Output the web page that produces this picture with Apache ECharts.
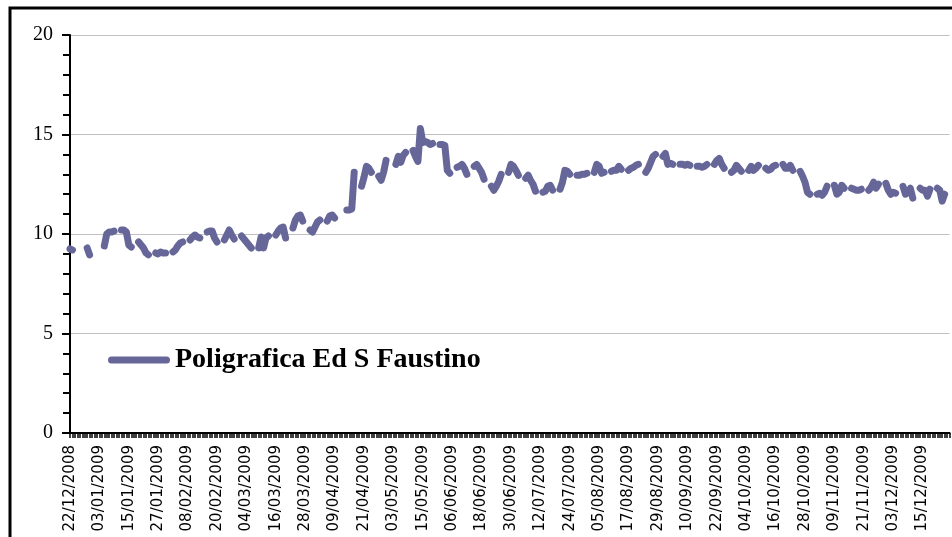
<!DOCTYPE html>
<html>
<head>
<meta charset="utf-8">
<script src="https://cdn.jsdelivr.net/npm/echarts@6/dist/echarts.min.js"></script>
<style>
  html, body { margin: 0; padding: 0; background: #fff; }
  #chart { width: 952px; height: 537px; }
</style>
</head>
<body>
<div id="chart"></div>
<script>
// categories: calendar days, 16/05-25/05/2009 are missing from the sheet
const startDate = new Date(2008, 11, 22);
const endDate = new Date(2009, 11, 26);
const skipFrom = new Date(2009, 4, 16);
const skipTo = new Date(2009, 4, 25);

const seriesName = 'Poligrafica Ed S Faustino';

// one line per week (Mon..Sun), null = no quote
const prices = [
  9.25, 9.2, null, null, null, null, null,        // 22/12/2008
  9.3, 8.95, null, null, null, null, null,        // 29/12
  9.4, 10.0, 10.1, 10.1, 10.15, null, null,       // 05/01/2009
  10.2, 10.2, 10.1, 9.45, 9.35, null, null,       // 12/01
  9.6, 9.45, 9.3, 9.05, 8.95, null, null,         // 19/01
  9.05, 9.0, 9.1, 9.05, 9.05, null, null,         // 26/01
  9.1, 9.2, 9.4, 9.55, 9.6, null, null,           // 02/02
  9.7, 9.85, 9.95, 9.85, 9.8, null, null,         // 09/02
  10.1, 10.15, 10.15, 9.8, 9.6, null, null,       // 16/02
  9.7, 9.95, 10.2, 9.95, 9.75, null, null,        // 23/02
  9.9, 9.75, 9.6, 9.45, 9.3, null, null,          // 02/03
  9.3, 9.85, 9.3, 9.8, 9.9, null, null,           // 09/03
  9.95, 10.15, 10.3, 10.35, 9.8, null, null,      // 16/03
  10.3, 10.7, 10.9, 10.95, 10.65, null, null,     // 23/03
  10.2, 10.1, 10.35, 10.6, 10.7, null, null,      // 30/03
  10.65, 10.9, 10.95, 10.8, null, null, null,     // 06/04
  null, 11.2, 11.2, 11.25, 13.1, null, null,      // 13/04
  12.4, 12.85, 13.4, 13.3, 13.1, null, null,      // 20/04
  12.9, 12.7, 13.1, 13.7, null, null, null,       // 27/04
  13.5, 13.9, 13.6, 13.95, 14.1, null, null,      // 04/05
  14.2, 13.9, 13.65, 15.3, 14.6,                  // 11/05 (to 15/05)
  14.65, 14.6, 14.5, 14.55, null, null,           // 26/05 (Tue)
  14.5, 14.5, 14.45, 13.2, 13.05, null, null,     // 01/06
  13.35, 13.4, 13.5, 13.3, 13.0, null, null,      // 08/06
  13.4, 13.5, 13.3, 13.1, 12.75, null, null,      // 15/06
  12.4, 12.2, 12.4, 12.65, 13.0, null, null,      // 22/06
  13.1, 13.5, 13.4, 13.2, 12.95, null, null,      // 29/06
  12.8, 12.95, 12.7, 12.5, 12.15, null, null,     // 06/07
  12.1, 12.15, 12.4, 12.45, 12.2, null, null,     // 13/07
  12.25, 12.6, 13.2, 13.15, 13.0, null, null,     // 20/07
  12.95, 12.95, 13.0, 13.0, 13.05, null, null,    // 27/07
  13.1, 13.5, 13.4, 13.05, 13.1, null, null,      // 03/08
  13.15, 13.2, 13.2, 13.4, 13.25, null, null,     // 10/08
  13.2, 13.3, 13.35, 13.45, 13.5, null, null,     // 17/08
  13.1, 13.3, 13.6, 13.9, 14.0, null, null,       // 24/08
  13.9, 14.05, 13.5, 13.55, 13.5, null, null,     // 31/08
  13.5, 13.5, 13.45, 13.5, 13.45, null, null,     // 07/09
  13.4, 13.4, 13.35, 13.4, 13.5, null, null,      // 14/09
  13.5, 13.7, 13.8, 13.5, 13.3, null, null,       // 21/09
  13.1, 13.2, 13.45, 13.3, 13.15, null, null,     // 28/09
  13.2, 13.4, 13.2, 13.3, 13.45, null, null,      // 05/10
  13.3, 13.2, 13.25, 13.4, 13.45, null, null,     // 12/10
  13.5, 13.3, 13.3, 13.45, 13.2, null, null,      // 19/10
  13.15, 12.9, 12.6, 12.1, 12.0, null, null,      // 26/10
  12.0, 12.05, 11.95, 12.1, 12.4, null, null,     // 02/11
  12.45, 12.0, 12.1, 12.45, 12.3, null, null,     // 09/11
  12.3, 12.25, 12.2, 12.2, 12.25, null, null,     // 16/11
  12.2, 12.35, 12.6, 12.3, 12.5, null, null,      // 23/11
  12.55, 12.2, 12.0, 12.1, 12.05, null, null,     // 30/11
  12.4, 12.0, 12.1, 12.3, 11.8, null, null,       // 07/12
  12.3, 12.2, 12.2, 11.9, 12.25, null, null,      // 14/12
  12.3, 12.2, 11.65, 12.0, null, null             // 21/12
];

function pad(n) { return n < 10 ? '0' + n : '' + n; }

const dates = [];
for (let d = new Date(startDate); d <= endDate; d.setDate(d.getDate() + 1)) {
  if (d >= skipFrom && d <= skipTo) continue;
  dates.push(pad(d.getDate()) + '/' + pad(d.getMonth() + 1) + '/' + d.getFullYear());
}

const lineColor = '#666699';
const step = 2.45;

const chart = echarts.init(document.getElementById('chart'));
chart.setOption({
  animation: false,
  backgroundColor: '#fff',
  grid: { left: 70, top: 35, width: step * (dates.length - 1), height: 398 },
  legend: {
    left: 103,
    top: 341,
    itemWidth: 62,
    itemHeight: 7,
    icon: 'path://M3.5,0H58.5A3.5,3.5,0,0,1,58.5,7H3.5A3.5,3.5,0,0,1,3.5,0Z',
    textStyle: { fontFamily: 'Liberation Serif', fontWeight: 'bold', fontSize: 28, color: '#000' },
    data: [seriesName]
  },
  xAxis: {
    type: 'category',
    data: dates,
    boundaryGap: false,
    axisLine: { lineStyle: { color: '#000', width: 2 } },
    axisTick: { interval: 0, length: 5, lineStyle: { color: '#000', width: 1.5 } },
    axisLabel: {
      interval: 11,
      rotate: 90,
      margin: 12,
      fontFamily: 'DejaVu Sans',
      fontSize: 15,
      color: '#000'
    },
    splitLine: { show: false }
  },
  yAxis: {
    type: 'value',
    min: 0,
    max: 20,
    interval: 5,
    axisLine: { show: true, lineStyle: { color: '#000', width: 2 } },
    axisTick: { show: true, length: 8, lineStyle: { color: '#000', width: 2 } },
    minorTick: { show: true, splitNumber: 5, length: 7, lineStyle: { color: '#000', width: 2 } },
    axisLabel: { fontFamily: 'Liberation Serif', fontSize: 20, color: '#000', margin: 17 },
    splitLine: { lineStyle: { color: '#c0c0c0', width: 1 } }
  },
  series: [{
    name: seriesName,
    type: 'line',
    data: prices,
    showSymbol: false,
    connectNulls: false,
    color: lineColor,
    lineStyle: { color: lineColor, width: 7, cap: 'round', join: 'round' }
  }],
  graphic: [{
    type: 'rect',
    silent: true,
    shape: { x: 10, y: 8, width: 1200, height: 800 },
    style: { fill: 'none', stroke: '#000', lineWidth: 3 }
  }]
});
</script>
</body>
</html>
